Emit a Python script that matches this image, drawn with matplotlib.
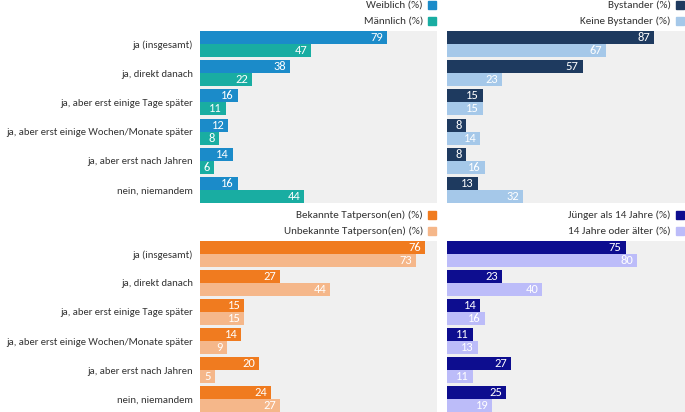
import matplotlib.pyplot as plt
from matplotlib import font_manager
from matplotlib.patches import Rectangle

installed = {f.name for f in font_manager.fontManager.ttflist}
if 'Carlito' in installed:
    FONT, LABEL_FS, LEG_FS, VAL_FS = 'Carlito', 7.7, 8.0, 9
else:
    FONT, LABEL_FS, LEG_FS, VAL_FS = 'Lato', 7.0, 7.2, 8
plt.rcParams['font.family'] = [FONT, 'DejaVu Sans']

categories = [
    "ja (insgesamt)",
    "ja, direkt danach",
    "ja, aber erst einige Tage später",
    "ja, aber erst einige Wochen/Monate später",
    "ja, aber erst nach Jahren",
    "nein, niemandem",
]

weiblich = [79, 38, 16, 12, 14, 16]
maennlich = [47, 22, 11, 8, 6, 44]
bystander = [87, 57, 15, 8, 8, 13]
keine_bystander = [67, 23, 15, 14, 16, 32]
bekannte = [76, 27, 15, 14, 20, 24]
unbekannte = [73, 44, 15, 9, 5, 27]
juenger = [75, 23, 14, 11, 27, 25]
aelter = [80, 40, 16, 13, 11, 19]

panels = [
    # (values a, values b, label a, label b, colour a, colour b, xmax, axes rect in px)
    (weiblich, maennlich, "Weiblich (%)", "Männlich (%)", "#1b8bc9", "#19ada2", 100,
     [200, 31, 237, 172]),
    (bystander, keine_bystander, "Bystander (%)", "Keine Bystander (%)", "#1e3a5f", "#a5c8e9", 100,
     [447, 31, 238, 172]),
    (bekannte, unbekannte, "Bekannte Tatperson(en) (%)", "Unbekannte Tatperson(en) (%)", "#f07b1f", "#f5b78a", 80,
     [200, 241, 237, 171]),
    (juenger, aelter, "Jünger als 14 Jahre (%)", "14 Jahre oder älter (%)", "#0d0d8f", "#bcbcf9", 100,
     [447, 241, 238, 171]),
]

W, H = 685, 412
fig = plt.figure(figsize=(W / 100, H / 100), dpi=100)

h = 0.442
for i, (va, vb, la, lb, ca, cb, xmax, (px, py, pw, ph)) in enumerate(panels):
    ax = fig.add_axes([px / W, 1 - (py + ph) / H, pw / W, ph / H])
    ax.set_facecolor("#f0f0f0")
    ys = list(range(len(categories)))
    ax.barh([y - h / 2 for y in ys], va, height=h, color=ca)
    ax.barh([y + h / 2 for y in ys], vb, height=h, color=cb)
    ax.set_xlim(0, xmax)
    ax.set_ylim(len(categories) - 1 + h, -h)
    for y, a, b in zip(ys, va, vb):
        ax.annotate(str(a), (a, y - h / 2), xytext=(-3, 0), textcoords="offset points",
                    ha="right", va="center", color="white", fontsize=VAL_FS)
        ax.annotate(str(b), (b, y + h / 2), xytext=(-3, 0), textcoords="offset points",
                    ha="right", va="center", color="white", fontsize=VAL_FS)
    for s in ax.spines.values():
        s.set_visible(False)
    ax.set_xticks([])
    if i % 2 == 0:
        ax.set_yticks(ys)
        ax.set_yticklabels(categories, fontsize=LABEL_FS, color="#333333")
        ax.tick_params(axis="y", length=0, pad=5)
    else:
        ax.set_yticks([])

    # legend above panel, right aligned
    for k, (lab, col) in enumerate([(la, ca), (lb, cb)]):
        yc = py - 26 + k * 16
        fig.text((px + pw - 14) / W, 1 - yc / H, lab, ha="right", va="center",
                 fontsize=LEG_FS, color="#333333")
        fig.patches.append(Rectangle(((px + pw - 9) / W, 1 - (yc + 4) / H), 8 / W, 8 / H,
                                     transform=fig.transFigure, color=col, figure=fig))

fig.savefig("out.png", dpi=100)
